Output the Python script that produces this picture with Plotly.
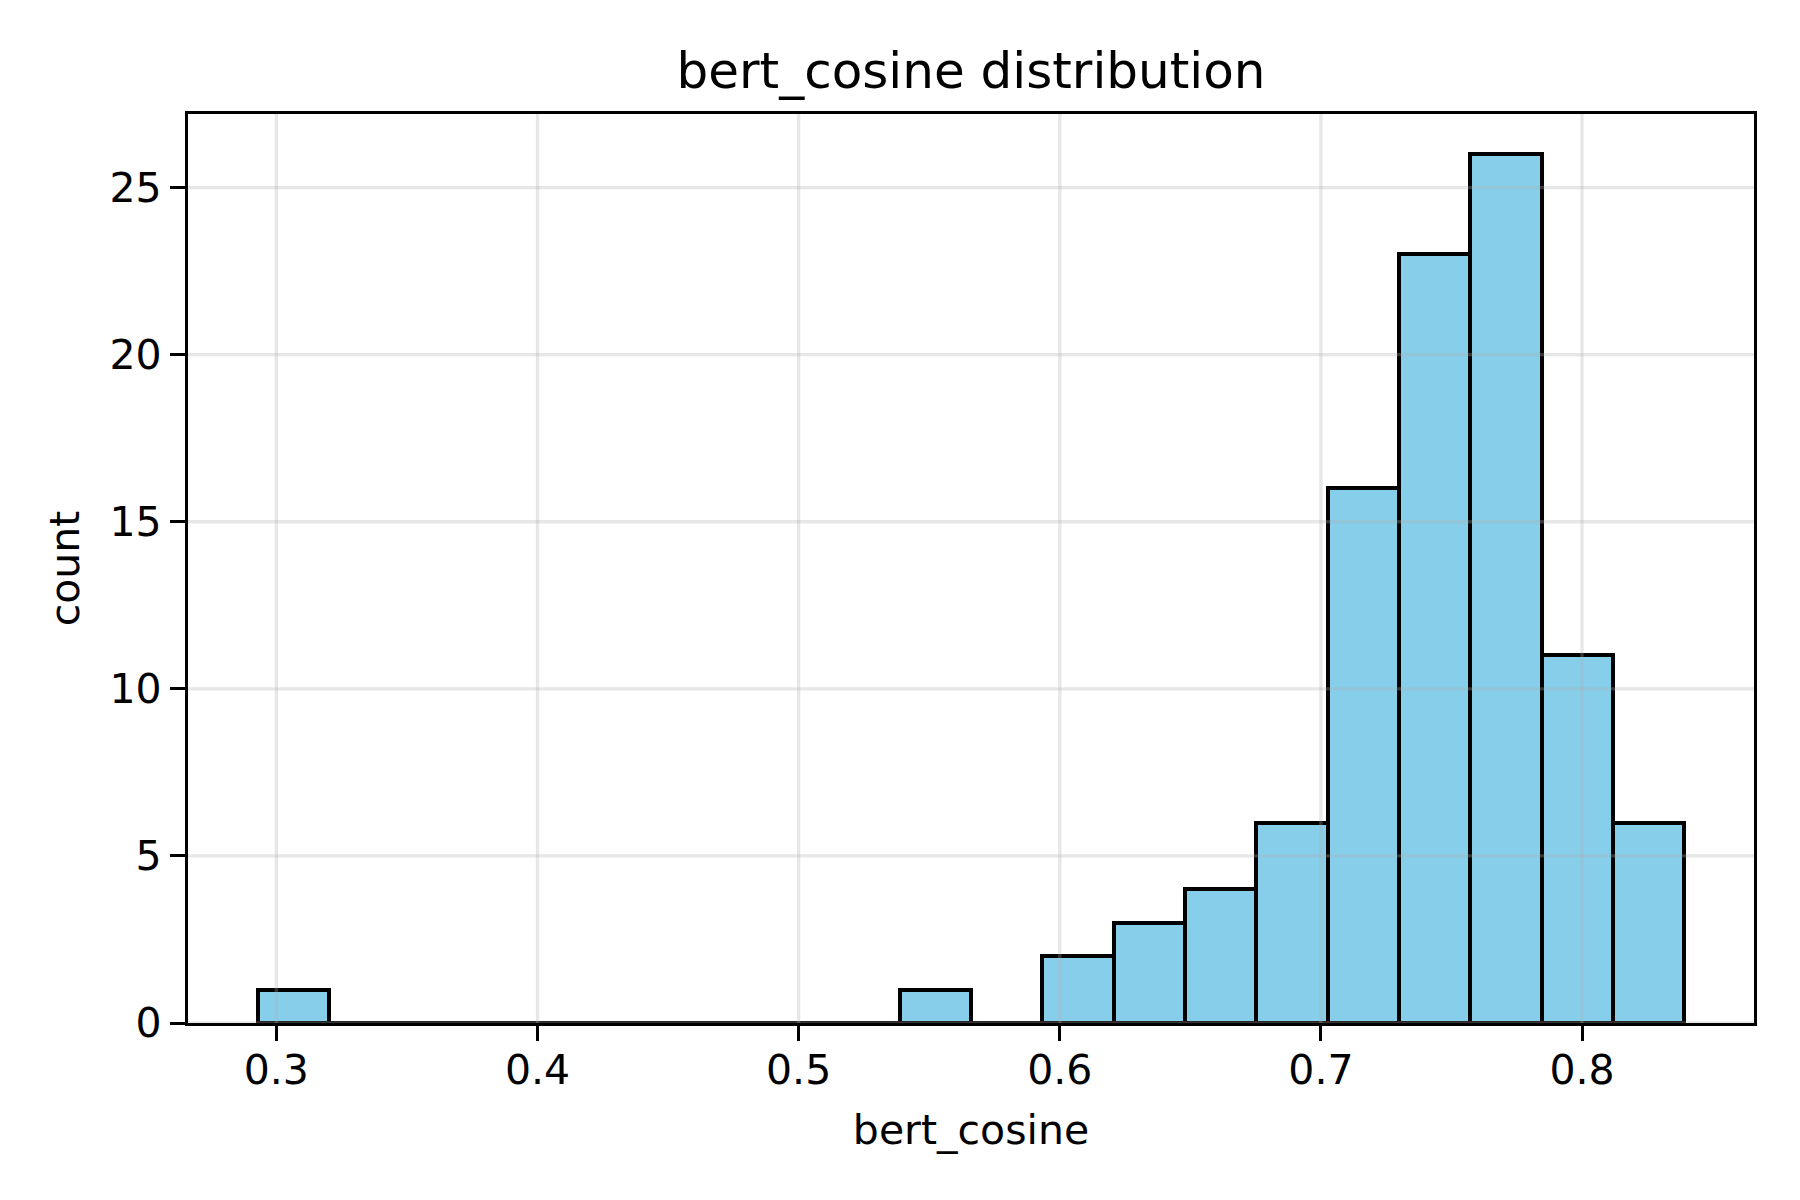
import numpy as np
import plotly.graph_objects as go

# Histogram data (20 equal-width bins)
bin_start = 0.29285
bin_width = 0.027316
counts = [1, 0, 0, 0, 0, 0, 0, 0, 0, 1, 0, 2, 3, 4, 6, 16, 23, 26, 11, 6]

x_ticks = [0.3, 0.4, 0.5, 0.6, 0.7, 0.8]
x_ticklabels = ["0.3", "0.4", "0.5", "0.6", "0.7", "0.8"]
y_ticks = [0, 5, 10, 15, 20, 25]
y_ticklabels = ["0", "5", "10", "15", "20", "25"]

title_text = "bert_cosine distribution"
x_label = "bert_cosine"
y_label = "count"

n = len(counts)
edges = bin_start + bin_width * np.arange(n + 1)
centers = (edges[:-1] + edges[1:]) / 2
span = edges[-1] - edges[0]

# Reference axes box (spine centres) in pixels
AX_L, AX_R, AX_T, AX_B = 186, 1756, 112, 1025
INSET = 1.65  # plotly draws axis lines just outside the plot area

x_full = [edges[0] - 0.05 * span, edges[-1] + 0.05 * span]
y_full = [0, max(counts) * 1.05]
xpx = (x_full[1] - x_full[0]) / (AX_R - AX_L)
ypx = (y_full[1] - y_full[0]) / (AX_B - AX_T)
x_range = [x_full[0] + INSET * xpx, x_full[1] - INSET * xpx]
y_range = [0, y_full[1] - 2 * INSET * ypx]

FONT = "DejaVu Sans"
fig = go.Figure()
fig.add_trace(go.Bar(
    x=centers, y=counts, width=bin_width,
    marker=dict(color="#87CEEB", line=dict(color="black", width=4)),
    showlegend=False,
    cliponaxis=False,
))

grid_color = "rgba(176,176,176,0.3)"
shapes = []
for t in x_ticks:
    shapes.append(dict(type="line", xref="x", yref="paper", x0=t, x1=t, y0=0, y1=1,
                       line=dict(color=grid_color, width=3.3), layer="above"))
for t in y_ticks:
    shapes.append(dict(type="line", xref="paper", yref="y", x0=0, x1=1, y0=t, y1=t,
                       line=dict(color=grid_color, width=3.3), layer="above"))

axis_common = dict(
    showline=True, linecolor="black", linewidth=3.3, mirror=True,
    ticks="outside", ticklen=15, tickwidth=3.3, tickcolor="black",
    showgrid=False, zeroline=False,
    tickfont=dict(family=FONT, size=41, color="black"),
    layer="above traces",
)

fig.update_layout(
    width=1800, height=1200,
    margin=dict(l=AX_L + INSET, r=1800 - AX_R + INSET, t=AX_T + INSET, b=1200 - AX_B + INSET),
    paper_bgcolor="white", plot_bgcolor="white",
    shapes=shapes,
    bargap=0,
    title=dict(text=title_text, x=(AX_L + AX_R) / 2 / 1800, xanchor="center",
               y=1 - 70 / 1200, yanchor="middle", yref="container",
               font=dict(family=FONT, size=50, color="black")),
    xaxis=dict(range=x_range, tickvals=x_ticks, ticktext=x_ticklabels,
               ticklabelstandoff=-6,
               title=dict(text=x_label, font=dict(family=FONT, size=41, color="black"), standoff=22),
               **axis_common),
    yaxis=dict(range=y_range, tickvals=y_ticks, ticktext=y_ticklabels,
               title=dict(text=y_label, font=dict(family=FONT, size=41, color="black"), standoff=18),
               **axis_common),
)

fig.write_html("out.html")
